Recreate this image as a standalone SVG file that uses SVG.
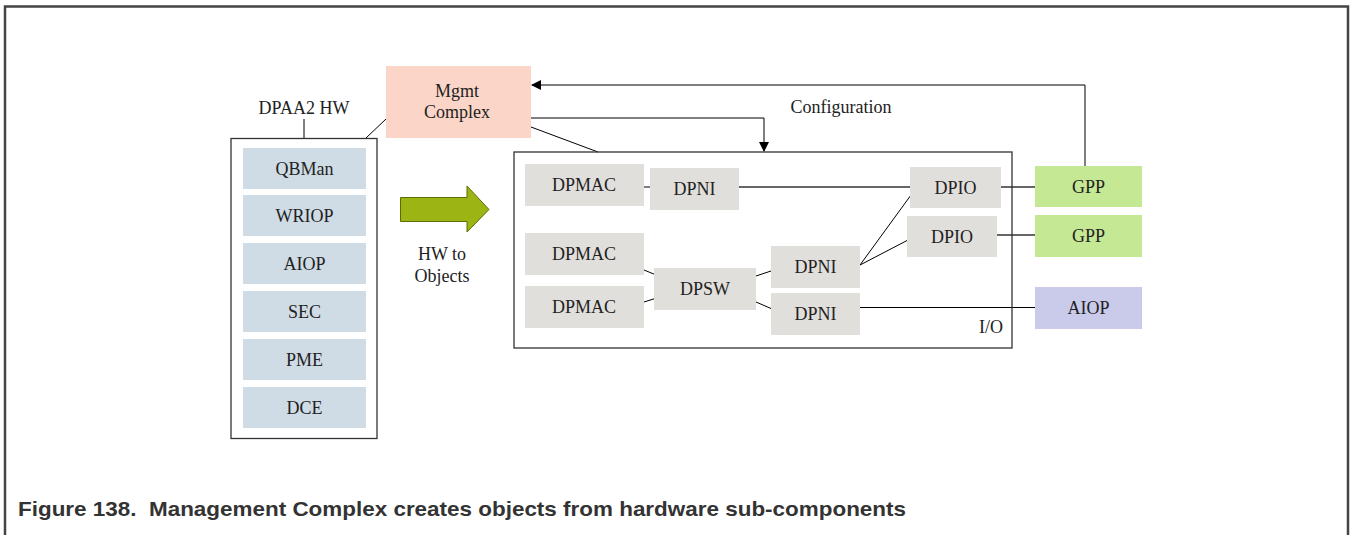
<svg xmlns="http://www.w3.org/2000/svg" width="1352" height="535" viewBox="0 0 1352 535">
<defs>
<style>
.t{font-family:"Liberation Serif","Times New Roman",serif;font-size:18px;fill:#222;text-anchor:middle}
.hw{fill:#cfdce5}
.obj{fill:#e1dfdc}
.gpp{fill:#c5e894}
.ln{stroke:#000;stroke-width:1;fill:none}
.gl{stroke:#666;stroke-width:2;fill:none}
.box{fill:none;stroke:#333;stroke-width:1.3}
</style>
<marker id="ah" markerWidth="10" markerHeight="10" refX="9" refY="5" orient="auto" markerUnits="userSpaceOnUse">
<path d="M0,0 L10,5 L0,10 Z" fill="#000"/>
</marker>
</defs>
<rect x="0" y="0" width="1352" height="535" fill="#fff"/>
<rect x="5" y="6.5" width="1343" height="600" fill="none" stroke="#444" stroke-width="2.5"/>

<g id="connectors">
<line class="ln" x1="304" y1="119" x2="304" y2="138"/>
<line class="ln" x1="366" y1="138" x2="386" y2="119"/>
<line class="ln" x1="531" y1="127" x2="598" y2="152"/>
<polyline class="ln" points="531,118 764,118 764,151" marker-end="url(#ah)"/>
<polyline class="ln" points="1085,167 1085,85 532,85" marker-end="url(#ah)"/>
<line class="ln" x1="644" y1="187" x2="650" y2="187"/>
<line class="gl" x1="739" y1="187" x2="910" y2="187"/>
<line class="gl" x1="1001" y1="187" x2="1035" y2="187"/>
<line class="ln" x1="644" y1="270" x2="655" y2="274.5"/>
<line class="ln" x1="644" y1="302" x2="655" y2="298.5"/>
<line class="ln" x1="756" y1="276" x2="771" y2="271"/>
<line class="ln" x1="756" y1="302" x2="771" y2="308.5"/>
<line class="ln" x1="860" y1="265" x2="911" y2="195"/>
<line class="ln" x1="860" y1="265" x2="908" y2="240"/>
<line class="gl" x1="997" y1="235" x2="1035" y2="235"/>
<line class="ln" x1="860" y1="307.5" x2="1035" y2="307.5"/>
</g>

<g id="dpaa2hw">
<rect class="box" x="231" y="138.5" width="146" height="300"/>
<text class="t" x="304" y="114">DPAA2 HW</text>
</g>
<g id="qbman"><rect class="hw" x="243" y="148" width="123" height="41"/><text class="t" x="304.5" y="175">QBMan</text></g>
<g id="wriop"><rect class="hw" x="243" y="195" width="123" height="41"/><text class="t" x="304.5" y="222">WRIOP</text></g>
<g id="aiop-hw"><rect class="hw" x="243" y="243" width="123" height="41"/><text class="t" x="304.5" y="270">AIOP</text></g>
<g id="sec"><rect class="hw" x="243" y="291" width="123" height="41"/><text class="t" x="304.5" y="318">SEC</text></g>
<g id="pme"><rect class="hw" x="243" y="339" width="123" height="41"/><text class="t" x="304.5" y="366">PME</text></g>
<g id="dce"><rect class="hw" x="243" y="387" width="123" height="41"/><text class="t" x="304.5" y="414">DCE</text></g>

<g id="mgmt">
<rect x="386" y="66" width="145" height="72" fill="#fbd6c8"/>
<text class="t" x="457" y="97">Mgmt</text>
<text class="t" x="457" y="118">Complex</text>
</g>

<g id="hw-to-objects">
<polygon points="400.5,197.5 467,197.5 467,186 489,209.5 467,232 467,221.5 400.5,221.5" fill="#9cb414" stroke="#5d6e00" stroke-width="1"/>
<text class="t" x="442" y="260">HW to</text>
<text class="t" x="442" y="282">Objects</text>
</g>

<g id="config-label"><text class="t" x="841" y="113">Configuration</text></g>

<g id="io">
<rect class="box" x="514" y="152" width="498" height="196"/>
<text class="t" x="991" y="333">I/O</text>
</g>
<g id="dpmac1"><rect class="obj" x="525" y="164" width="119" height="42"/><text class="t" x="584" y="191">DPMAC</text></g>
<g id="dpni1"><rect class="obj" x="650" y="168" width="89" height="42"/><text class="t" x="694.5" y="195">DPNI</text></g>
<g id="dpio1"><rect class="obj" x="910" y="167" width="91" height="41"/><text class="t" x="955.5" y="194">DPIO</text></g>
<g id="dpio2"><rect class="obj" x="907" y="216" width="90" height="41"/><text class="t" x="952" y="243">DPIO</text></g>
<g id="dpmac2"><rect class="obj" x="525" y="233" width="119" height="42"/><text class="t" x="584" y="260">DPMAC</text></g>
<g id="dpmac3"><rect class="obj" x="525" y="286" width="119" height="42"/><text class="t" x="584" y="313">DPMAC</text></g>
<g id="dpsw"><rect class="obj" x="654" y="268" width="102" height="42"/><text class="t" x="705" y="295">DPSW</text></g>
<g id="dpni2"><rect class="obj" x="771" y="246" width="89" height="42"/><text class="t" x="815.5" y="273">DPNI</text></g>
<g id="dpni3"><rect class="obj" x="771" y="293" width="89" height="42"/><text class="t" x="815.5" y="320">DPNI</text></g>

<g id="gpp1"><rect class="gpp" x="1035" y="166" width="107" height="41"/><text class="t" x="1088.5" y="193">GPP</text></g>
<g id="gpp2"><rect class="gpp" x="1035" y="215" width="107" height="42"/><text class="t" x="1088.5" y="242">GPP</text></g>
<g id="aiop"><rect x="1035" y="287" width="107" height="42" fill="#cacaea"/><text class="t" x="1088.5" y="314">AIOP</text></g>

<text x="18" y="516" font-family="'Liberation Sans',Arial,sans-serif" font-size="21" font-weight="bold" fill="#333" style="white-space:pre" textLength="888" lengthAdjust="spacingAndGlyphs">Figure 138.  Management Complex creates objects from hardware sub-components</text>
</svg>
